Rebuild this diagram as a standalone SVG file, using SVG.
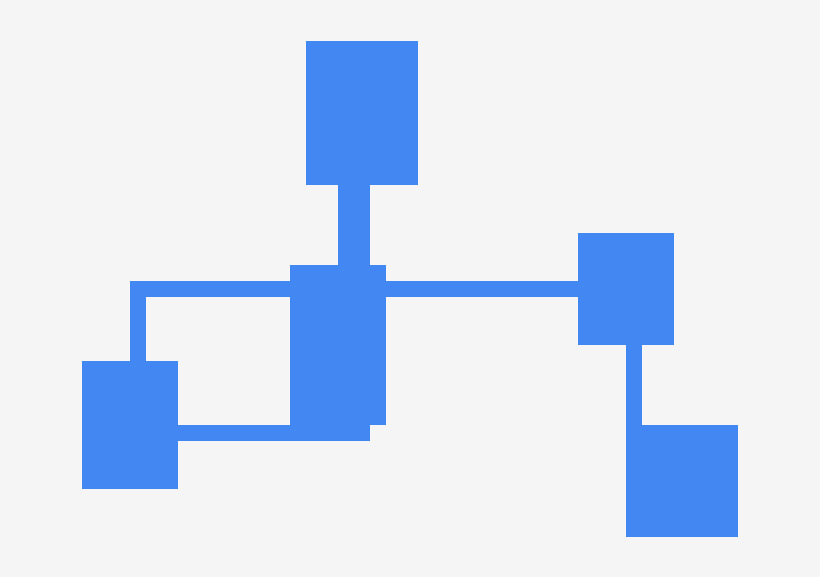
<svg xmlns="http://www.w3.org/2000/svg" width="820" height="577" viewBox="0 0 820 577">
<style>
.n{fill:#4287f2}
.c{fill:none;stroke:#4287f2;stroke-width:16;stroke-linecap:butt;stroke-linejoin:miter}
.w{stroke-width:32}
</style>
<rect width="820" height="577" fill="#f5f5f5"/>
<g id="connectors">
<path class="c w" d="M354,185 V265"/>
<path class="c" d="M138,361 V289 H578"/>
<path class="c" d="M178,433 H370"/>
<path class="c" d="M634,345 V425"/>
</g>
<g id="node-top"><rect class="n" x="306" y="41" width="112" height="144"/></g>
<g id="node-center"><rect class="n" x="290" y="265" width="96" height="160"/></g>
<g id="node-left"><rect class="n" x="82" y="361" width="96" height="128"/></g>
<g id="node-right"><rect class="n" x="578" y="233" width="96" height="112"/></g>
<g id="node-bottom-right"><rect class="n" x="626" y="425" width="112" height="112"/></g>
</svg>
